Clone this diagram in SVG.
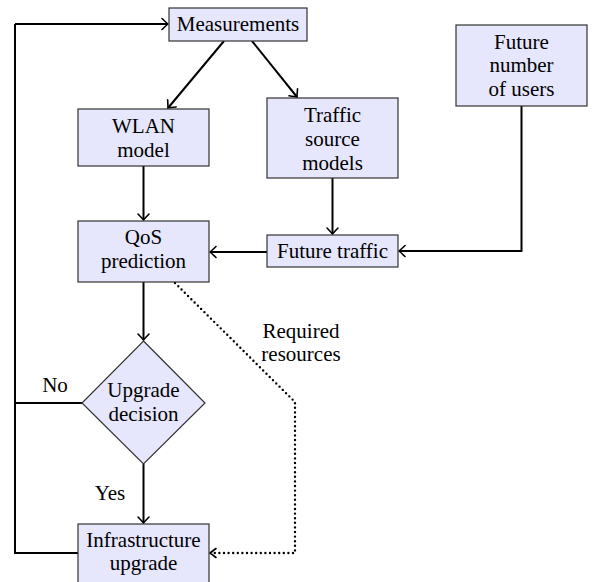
<svg xmlns="http://www.w3.org/2000/svg" width="597" height="582" viewBox="0 0 597 582" font-family="'Liberation Serif', 'DejaVu Serif', serif">
<style>
.box{fill:#e6e6fc;stroke:#333;stroke-width:1.2}
.t{font-family:'Liberation Serif','DejaVu Serif',serif;font-size:21px;fill:#000;text-anchor:middle}
.c{fill:none;stroke:#000;stroke-width:2}
.d{fill:none;stroke:#000;stroke-width:2.4;stroke-dasharray:0 4.6;stroke-linecap:round}
</style>
<defs>
<marker id="a" markerUnits="userSpaceOnUse" markerWidth="14" markerHeight="14" refX="0" refY="0" viewBox="-8 -7 10 14" orient="auto" overflow="visible">
<path d="M-6,-5.5 Q-1.5,-1.2 0,0 Q-1.5,1.2 -6,5.5" fill="none" stroke="#000" stroke-width="1.6" stroke-linecap="round"/>
</marker>
</defs>
<rect width="597" height="582" fill="#fff"/>
<g id="connectors">
<path class="c" d="M15,24 H168" marker-end="url(#a)"/>
<path class="c" d="M224,41 L168,108" marker-end="url(#a)"/>
<path class="c" d="M252,41 L297,97" marker-end="url(#a)"/>
<path class="c" d="M143.5,166 V220" marker-end="url(#a)"/>
<path class="c" d="M332.5,178 V234" marker-end="url(#a)"/>
<path class="c" d="M521.5,106 V251 H399" marker-end="url(#a)"/>
<path class="c" d="M267,252 H210" marker-end="url(#a)"/>
<path class="c" d="M143.5,282 V340" marker-end="url(#a)"/>
<path class="c" d="M143.5,464 V523" marker-end="url(#a)"/>
<path class="c" d="M82,403 H15 V24"/>
<path class="c" d="M78,553 H15 V403"/>
<path class="d" d="M175,283 L295,402 V553 H213"/>
<path d="M216,548.5 Q211.5,552 210,553 Q211.5,554 216,557.5" fill="none" stroke="#000" stroke-width="1.6" stroke-linecap="round"/>
<text class="t" x="55" y="392">No</text>
<text class="t" x="110" y="500">Yes</text>
<text class="t" x="301" y="338">Required</text>
<text class="t" x="301" y="361">resources</text>
</g>
<g id="measurements">
<rect class="box" x="169" y="8" width="138" height="33"/>
<text class="t" x="238" y="31">Measurements</text>
</g>
<g id="wlan">
<rect class="box" x="78" y="109" width="131" height="57"/>
<text class="t" x="143.5" y="133">WLAN</text>
<text class="t" x="143.5" y="157">model</text>
</g>
<g id="traffic-source">
<rect class="box" x="267" y="98" width="131" height="80"/>
<text class="t" x="332.5" y="122">Traffic</text>
<text class="t" x="332.5" y="146">source</text>
<text class="t" x="332.5" y="170">models</text>
</g>
<g id="future-users">
<rect class="box" x="456" y="25" width="131" height="81"/>
<text class="t" x="521.5" y="49">Future</text>
<text class="t" x="521.5" y="72">number</text>
<text class="t" x="521.5" y="96">of users</text>
</g>
<g id="future-traffic">
<rect class="box" x="267" y="235" width="131" height="32"/>
<text class="t" x="332.5" y="258">Future traffic</text>
</g>
<g id="qos">
<rect class="box" x="78" y="221" width="131" height="61"/>
<text class="t" x="143.5" y="244">QoS</text>
<text class="t" x="143.5" y="268">prediction</text>
</g>
<g id="decision">
<path class="box" d="M143.5,341 L205,403 L143.5,464 L82,403 Z"/>
<text class="t" x="143.5" y="397">Upgrade</text>
<text class="t" x="143.5" y="421">decision</text>
</g>
<g id="infrastructure">
<rect class="box" x="78" y="524" width="131" height="62"/>
<text class="t" x="143.5" y="547">Infrastructure</text>
<text class="t" x="143.5" y="570">upgrade</text>
</g>
</svg>
